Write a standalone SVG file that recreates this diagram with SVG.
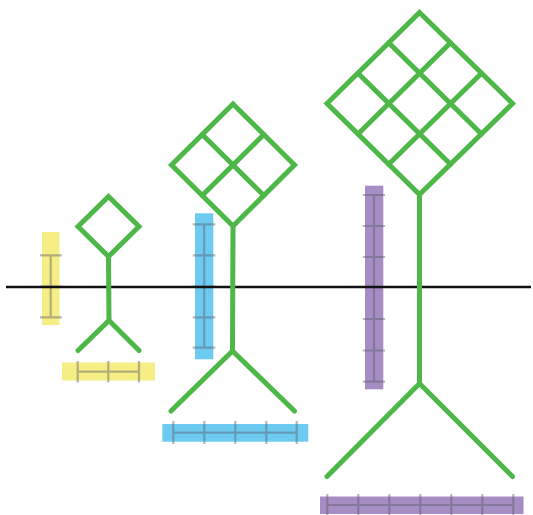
<svg xmlns="http://www.w3.org/2000/svg" width="533" height="515" viewBox="0 0 533 515">
  <style>
    .fig { fill: none; stroke: #4db748; stroke-width: 5; stroke-linecap: round; stroke-linejoin: miter; }
    .bar-y { fill: #f4ee84; }
    .bar-b { fill: #6dcbf1; }
    .bar-p { fill: #a68dc4; }
    .ruler { fill: none; stroke: #5f5f6f; stroke-opacity: 0.45; stroke-width: 2.2; }
    .axis { stroke: #111; stroke-width: 2.5; }
  </style>

  <!-- measuring bars -->
  <g id="bar-small-vertical">
    <rect class="bar-y" x="42" y="232" width="17.5" height="93"/>
    <path class="ruler" d="M50.7 255.3V317.3M40 255.3H61.7M40 286.5H61.7M40 317.3H61.7"/>
  </g>
  <g id="bar-small-horizontal">
    <rect class="bar-y" x="62" y="362.5" width="93" height="18"/>
    <path class="ruler" d="M77.7 371.6H139M77.7 361V382.5M108.3 361V382.5M139 361V382.5"/>
  </g>
  <g id="bar-medium-vertical">
    <rect class="bar-b" x="195" y="213.3" width="18.3" height="146"/>
    <path class="ruler" d="M204.2 224.3V347.7M192.7 224.3H215.3M192.7 255.3H215.3M192.7 286.5H215.3M192.7 317.3H215.3M192.7 347.7H215.3"/>
  </g>
  <g id="bar-medium-horizontal">
    <rect class="bar-b" x="162.3" y="424" width="146" height="17.7"/>
    <path class="ruler" d="M173.3 432.7H296.7M173.3 421V444M204.3 421V444M235.3 421V444M266.3 421V444M296.7 421V444"/>
  </g>
  <g id="bar-large-vertical">
    <rect class="bar-p" x="365" y="185.7" width="18.3" height="203.6"/>
    <path class="ruler" d="M374 195V381.7M362.7 195H385M362.7 226H385M362.7 257H385M362.7 287H385M362.7 319H385M362.7 350.5H385M362.7 381.7H385"/>
  </g>
  <g id="bar-large-horizontal">
    <rect class="bar-p" x="320" y="496.5" width="203.5" height="17.5"/>
    <path class="ruler" d="M327.3 505H513.3M327.3 494V515M358.3 494V515M389.3 494V515M420.3 494V515M451.3 494V515M482.3 494V515M513.3 494V515"/>
  </g>

  <!-- baseline -->
  <g id="connectors">
    <line class="axis" x1="6" y1="287" x2="531" y2="287"/>
  </g>

  <!-- small figure: 1x1 diamond -->
  <g id="figure-small">
    <path class="fig" d="M108.5 196.5L139 226.5L108.5 256.5L78 226.5Z"/>
    <path class="fig" d="M108.5 256.5L109 320.5M78 350.5L109 320.5L139 350.5"/>
  </g>

  <!-- medium figure: 2x2 diamond -->
  <g id="figure-medium">
    <path class="fig" d="M233 104L294.5 165L233 226L171.5 165Z"/>
    <path class="fig" d="M202.2 134.5L263.8 195.5M263.8 134.5L202.2 195.5"/>
    <path class="fig" d="M233 226L232.5 351M171 411L232.5 351L294.5 411"/>
  </g>

  <!-- large figure: 3x3 diamond -->
  <g id="figure-large">
    <path class="fig" d="M419.5 12.5L512.5 103.5L419.5 194.5L327 103.5Z"/>
    <path class="fig" d="M388.7 42.8L481.5 134M358 73.2L450.5 164.2M450.5 42.8L358 134M481.5 73.2L388.7 164.2"/>
    <path class="fig" d="M419.5 194.5V383.5M327 476.5L419.5 383.5L512.5 476.5"/>
  </g>
</svg>
